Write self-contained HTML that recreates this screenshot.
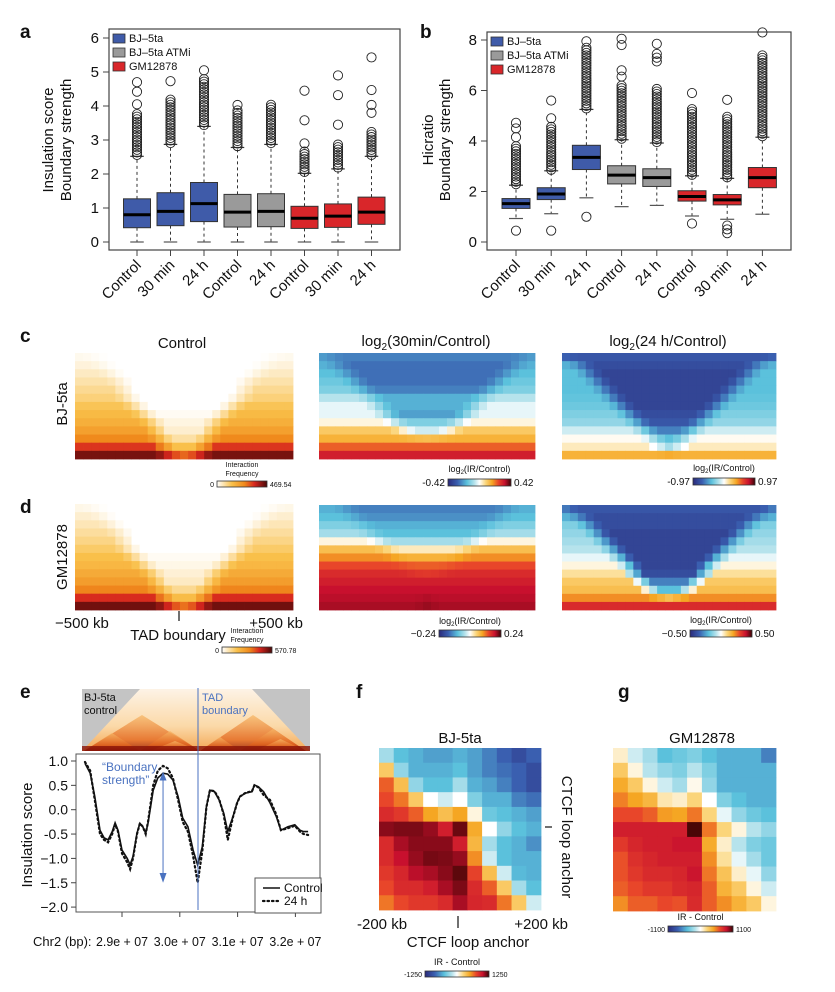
<!DOCTYPE html>
<html><head><meta charset="utf-8"><style>
html,body{margin:0;padding:0;background:#fff;}
svg{display:block;font-family:"Liberation Sans",Arial,sans-serif;}
</style></head><body>
<svg id="fig" width="835" height="992" viewBox="0 0 835 992" xmlns="http://www.w3.org/2000/svg">
<defs>
<linearGradient id="cbDiv" x1="0" x2="1" y1="0" y2="0">
<stop offset="0" stop-color="#2b2a7a"/><stop offset="0.15" stop-color="#3a5fb0"/><stop offset="0.3" stop-color="#5bc1dc"/><stop offset="0.42" stop-color="#b6e3ec"/><stop offset="0.5" stop-color="#ffffff"/><stop offset="0.6" stop-color="#fbd57a"/><stop offset="0.7" stop-color="#f5a623"/><stop offset="0.8" stop-color="#e8462a"/><stop offset="0.9" stop-color="#c8102e"/><stop offset="1" stop-color="#3a0606"/></linearGradient>
<linearGradient id="cbSeq" x1="0" x2="1" y1="0" y2="0">
<stop offset="0" stop-color="#ffffff"/><stop offset="0.3" stop-color="#f9c04a"/><stop offset="0.55" stop-color="#f08a1c"/><stop offset="0.75" stop-color="#d7261e"/><stop offset="1" stop-color="#4a0808"/></linearGradient>
<linearGradient id="triG" x1="0" x2="0" y1="0" y2="1">
<stop offset="0" stop-color="#fdf3e6"/><stop offset="0.6" stop-color="#fbd9a8"/><stop offset="1" stop-color="#f3a653"/></linearGradient>
<linearGradient id="tadG" x1="0" x2="0" y1="0" y2="1">
<stop offset="0" stop-color="#f7b968"/><stop offset="0.7" stop-color="#e2621c"/><stop offset="1" stop-color="#8a1308"/></linearGradient>
</defs>
<g id="layer"></g>
</svg>
<script>
// ---------- data: panel a ----------
const catLabels = ["Control","30 min","24 h","Control","24 h","Control","30 min","24 h"];
const groupColors = ["#3f5ba9","#3f5ba9","#3f5ba9","#9a9a9a","#9a9a9a","#d9262a","#d9262a","#d9262a"];
const legendLabels = ["BJ\u20135ta","BJ\u20135ta ATMi","GM12878"];
const legendColors = ["#3f5ba9","#9a9a9a","#d9262a"];
const aQ1 = [0.42,0.48,0.60,0.44,0.45,0.40,0.43,0.52];
const aMed = [0.80,0.90,1.13,0.88,0.90,0.70,0.76,0.88];
const aQ3 = [1.27,1.45,1.75,1.40,1.42,1.05,1.12,1.32];
const aLo = [0,0,0,0,0,0,0,0];
const aHi = [2.52,2.87,3.40,2.78,2.87,2.02,2.15,2.52];
const aDenseTop = [3.8,4.2,4.8,3.9,4.07,2.7,2.9,3.25];
const aSparse = [[4.05,4.42,4.7],[4.73],[5.05],[4.03],[],[2.9,3.58,4.45],[3.45,4.32,4.9],[3.8,4.03,4.47,5.43]];
const aLowOut = [[],[],[],[],[],[],[],[]];
const aTicks = [0,1,2,3,4,5,6];
// ---------- data: panel b ----------
const bQ1 = [1.33,1.68,2.87,2.30,2.20,1.62,1.47,2.15];
const bMed = [1.52,1.90,3.35,2.65,2.55,1.80,1.67,2.55];
const bQ3 = [1.72,2.15,3.83,3.02,2.90,2.03,1.88,2.95];
const bLo = [0.93,1.12,1.75,1.40,1.45,1.03,0.90,1.10];
const bHi = [2.25,2.82,5.25,4.05,3.92,2.62,2.52,4.15];
const bDenseTop = [3.85,4.6,7.7,6.2,6.1,5.3,5.05,7.4];
const bSparse = [[4.15,4.5,4.72],[4.9,5.6],[7.95],[6.55,6.8,7.8,8.05],[7.15,7.3,7.45,7.85],[5.9],[5.63],[8.3]];
const bLowOut = [[0.45],[0.45],[1.0],[],[],[0.73],[0.35,0.5,0.65],[]];
const bTicks = [0,2,4,6,8];
// ---------- data: heatmaps c/d (per-row profiles, top row first) ----------
const cCtrlEdge = [0.03,0.06,0.1,0.14,0.18,0.22,0.28,0.33,0.38,0.45,0.55,0.72,0.92];
const cCtrlCenter = [0,0,0,0,0,0,0,0.02,0.05,0.08,0.15,0.3,0.62];
const cCtrlHW = [11,10,9,8,7.5,7,6,5,4,3.5,3,2.5,2];
const dCtrlEdge = [0.04,0.08,0.12,0.16,0.2,0.25,0.3,0.34,0.4,0.46,0.56,0.74,0.93];
const dCtrlCenter = [0,0,0,0,0,0,0.02,0.04,0.07,0.1,0.18,0.32,0.6];
const dCtrlHW = [11,10,9,8,7.5,7,6,5,4,3.5,3,2.5,2];
const c30Edge = [-0.5,-0.45,-0.4,-0.35,-0.3,-0.15,-0.05,-0.05,0.05,0.25,0.35,0.55,0.75];
const c30Center = [-0.6,-0.65,-0.65,-0.65,-0.6,-0.45,-0.45,-0.5,-0.3,-0.1,0.3,0.55,0.75];
const c30HW = [12,11,10,9,8,7,6,5,4,3,2,1,0];
const c24Edge = [-0.65,-0.45,-0.4,-0.4,-0.4,-0.38,-0.35,-0.3,-0.25,-0.1,0.02,0.1,0.35];
const c24Center = [-0.75,-0.8,-0.85,-0.85,-0.85,-0.85,-0.85,-0.8,-0.75,-0.6,-0.4,-0.2,0.4];
const c24HW = [13,11,10,9,8,7,6,5,4,3,2,1.5,0];
const d30Edge = [-0.45,-0.4,-0.3,-0.2,0.05,0.3,0.45,0.6,0.7,0.75,0.8,0.82,0.85];
const d30Center = [-0.6,-0.55,-0.45,-0.4,-0.2,0.1,0.35,0.55,0.65,0.75,0.8,0.85,0.9];
const d30HW = [10,9,8,7,6,5,4,3,2,1,0,0,0];
const d24Edge = [-0.5,-0.45,-0.3,-0.25,-0.2,-0.15,-0.05,0.05,0.15,0.25,0.3,0.45,0.7];
const d24Center = [-0.75,-0.8,-0.8,-0.85,-0.85,-0.85,-0.85,-0.85,-0.8,-0.6,-0.4,0.3,0.7];
const d24HW = [13,11,10,9,8,7,6,5,4.5,3.5,2.5,1.5,0];
// ---------- data: panel e ----------
const eMb = [28.36,28.45,28.53,28.62,28.69,28.76,28.83,28.88,28.93,29.0,29.09,29.14,29.19,29.26,29.31,29.36,29.41,29.45,29.54,29.62,29.71,29.79,29.88,29.97,30.05,30.14,30.23,30.31,30.39,30.46,30.52,30.6,30.68,30.76,30.83,30.92,30.99,31.04,31.14,31.25,31.29,31.36,31.45,31.56,31.67,31.75,31.87,31.99,32.08,32.14,32.22];
const eControl = [0.95,0.75,0.27,-0.42,-0.58,-0.62,-0.45,-0.27,-0.42,-0.83,-1.0,-1.13,-0.96,-0.48,-0.28,-0.35,-0.48,-0.28,0.40,0.65,0.75,0.73,0.61,0.27,-0.17,-0.35,-0.83,-1.14,-0.76,0.06,0.40,0.37,0.2,-0.07,-0.45,-0.14,0.14,0.27,0.34,0.37,0.51,0.47,0.37,0.14,-0.14,-0.42,-0.35,-0.31,-0.42,-0.45,-0.45];
const e24h = [0.98,0.8,0.2,-0.5,-0.62,-0.67,-0.5,-0.3,-0.45,-0.9,-1.08,-1.22,-1.0,-0.5,-0.28,-0.35,-0.5,-0.25,0.5,0.8,0.9,0.85,0.65,0.2,-0.25,-0.45,-0.95,-1.5,-0.85,0.05,0.4,0.38,0.22,-0.1,-0.62,-0.15,0.13,0.27,0.35,0.38,0.5,0.46,0.3,0.2,-0.1,-0.42,-0.38,-0.33,-0.45,-0.5,-0.52];
const eTicksY = [1.0,0.5,0.0,-0.5,-1.0,-1.5,-2.0];
const eTickLabelsY = ["1.0","0.5","0.0","-0.5","\u22121.0","\u22121.5","\u22122.0"];
const eTicksX = [29,30,31,32];
const eTickLabelsX = ["2.9e + 07","3.0e + 07","3.1e + 07","3.2e + 07"];
// ---------- data: panels f/g (11x11, top row first) ----------
const fCells = [
[-0.2,-0.4,-0.45,-0.5,-0.5,-0.45,-0.5,-0.6,-0.7,-0.8,-0.7],
[0.25,-0.25,-0.45,-0.45,-0.45,-0.4,-0.5,-0.6,-0.65,-0.7,-0.8],
[0.55,0.3,-0.25,-0.4,-0.4,-0.2,-0.45,-0.5,-0.6,-0.7,-0.8],
[0.6,0.5,0.25,0.0,-0.1,0.0,-0.3,-0.45,-0.45,-0.6,-0.65],
[0.7,0.65,0.55,0.4,0.3,0.4,0.05,-0.35,-0.4,-0.45,-0.5],
[0.9,0.92,0.92,0.88,0.75,0.95,0.38,0.0,-0.25,-0.4,-0.45],
[0.7,0.85,0.9,0.9,0.9,0.75,0.33,-0.2,-0.4,-0.45,-0.55],
[0.7,0.8,0.88,0.93,0.92,0.88,0.45,-0.1,-0.4,-0.45,-0.45],
[0.65,0.72,0.82,0.85,0.9,0.97,0.62,0.3,-0.1,-0.42,-0.45],
[0.6,0.7,0.7,0.75,0.85,0.92,0.7,0.55,0.25,-0.2,-0.4],
[0.5,0.6,0.65,0.65,0.7,0.85,0.72,0.7,0.5,0.25,-0.1]];
const gCells = [
[0.08,-0.1,-0.2,-0.4,-0.35,-0.3,-0.4,-0.45,-0.45,-0.45,-0.6],
[0.25,0.05,-0.15,-0.25,-0.3,-0.15,-0.3,-0.45,-0.45,-0.45,-0.45],
[0.38,0.25,0.05,-0.1,-0.2,0.03,-0.25,-0.45,-0.45,-0.45,-0.45],
[0.48,0.4,0.33,0.12,0.08,0.2,0.0,-0.3,-0.4,-0.45,-0.45],
[0.6,0.6,0.55,0.42,0.4,0.5,0.2,-0.05,-0.25,-0.35,-0.4],
[0.75,0.75,0.75,0.75,0.75,1.0,0.5,0.2,0.05,-0.15,-0.25],
[0.65,0.72,0.75,0.75,0.78,0.78,0.38,0.08,-0.15,-0.3,-0.35],
[0.58,0.68,0.72,0.75,0.75,0.75,0.45,0.15,-0.05,-0.2,-0.35],
[0.58,0.65,0.7,0.7,0.72,0.78,0.5,0.28,0.08,-0.05,-0.25],
[0.55,0.6,0.65,0.65,0.7,0.72,0.55,0.35,0.25,0.05,-0.1],
[0.45,0.55,0.55,0.6,0.58,0.7,0.55,0.45,0.35,0.25,0.05]];

// ---------- helpers ----------
const NS = "http://www.w3.org/2000/svg";
const root = document.getElementById("layer");
function mk(tag, attrs, parent){
  const e = document.createElementNS(NS, tag);
  for (const k in attrs) e.setAttribute(k, attrs[k]);
  (parent||root).appendChild(e);
  return e;
}
function txt(s, x, y, size, opts, parent){
  const e = mk("text", Object.assign({x:x, y:y, "font-size":size, fill:"#111"}, opts||{}), parent);
  e.textContent = s;
  return e;
}
function hex(c){return [parseInt(c.slice(1,3),16),parseInt(c.slice(3,5),16),parseInt(c.slice(5,7),16)];}
function interp(stops, v){
  if (v<=stops[0][0]) return stops[0][1];
  for (let i=1;i<stops.length;i++){
    if (v<=stops[i][0]){
      const t=(v-stops[i-1][0])/(stops[i][0]-stops[i-1][0]);
      const a=hex(stops[i-1][1]), b=hex(stops[i][1]);
      return "rgb("+a.map((x,j)=>Math.round(x+(b[j]-x)*t)).join(",")+")";
    }
  }
  return stops[stops.length-1][1];
}
const divStops = [[-1,"#2b2a7a"],[-0.7,"#3a5fb0"],[-0.4,"#5bc1dc"],[-0.15,"#b6e3ec"],[0,"#ffffff"],[0.2,"#fbd57a"],[0.4,"#f5a623"],[0.6,"#e8462a"],[0.8,"#c8102e"],[1,"#4a0606"]];
const seqStops = [[0,"#ffffff"],[0.3,"#f9c04a"],[0.55,"#f08a1c"],[0.75,"#d7261e"],[1,"#4a0808"]];
const divColor = v=>interp(divStops,v);
const seqColor = v=>interp(seqStops,v);

// ---------- panel letters ----------
[["a",20,38],["b",420,38],["c",20,342],["d",20,513],["e",20,698],["f",356,698],["g",618,698]].forEach(p=>{
  const t = txt(p[0],p[1],p[2],19,{"font-weight":"bold"});
  
  
});

// ---------- boxplot ----------
function boxplot(cfg){
  const g = mk("g",{});
  
  
  const y = v => cfg.y0 - (v - cfg.vmin)*cfg.ppu;
  const x = i => cfg.x0 + i*cfg.step;
  const frame = mk("rect",{x:cfg.left,y:cfg.top,width:cfg.right-cfg.left,height:cfg.bottom-cfg.top,fill:"none",stroke:"#444","stroke-width":1.2},g);
  
  
  cfg.ticks.forEach(t=>{
    mk("line",{x1:cfg.left-6,x2:cfg.left,y1:y(t),y2:y(t),stroke:"#444","stroke-width":1},g);
    const tl = txt(String(t),cfg.left-10,y(t)+5,15,{"text-anchor":"end"},g);
    
    
  });
  const yt = txt(cfg.title1,0,0,15,{"text-anchor":"middle",transform:"translate("+cfg.tx1+","+cfg.ty+") rotate(-90)"},g);
  
  
  const yt2 = txt(cfg.title2,0,0,15,{"text-anchor":"middle",transform:"translate("+cfg.tx2+","+cfg.ty+") rotate(-90)"},g);
  
  
  const hw = cfg.boxW/2;
  for (let i=0;i<catLabels.length;i++){
    const cx = x(i);
    const bg = mk("g",{},g);
    
    
    mk("line",{x1:cx,x2:cx,y1:y(cfg.q3[i]),y2:y(cfg.hi[i]),stroke:"#333","stroke-dasharray":"3,3","stroke-width":1},bg);
    mk("line",{x1:cx,x2:cx,y1:y(cfg.q1[i]),y2:y(cfg.lo[i]),stroke:"#333","stroke-dasharray":"3,3","stroke-width":1},bg);
    mk("line",{x1:cx-hw/2,x2:cx+hw/2,y1:y(cfg.hi[i]),y2:y(cfg.hi[i]),stroke:"#333","stroke-width":1.2},bg);
    mk("line",{x1:cx-hw/2,x2:cx+hw/2,y1:y(cfg.lo[i]),y2:y(cfg.lo[i]),stroke:"#555","stroke-width":1.2},bg);
    mk("rect",{x:cx-hw,y:y(cfg.q3[i]),width:cfg.boxW,height:y(cfg.q1[i])-y(cfg.q3[i]),fill:groupColors[i],stroke:"#333","stroke-width":1},bg);
    mk("line",{x1:cx-hw,x2:cx+hw,y1:y(cfg.med[i]),y2:y(cfg.med[i]),stroke:"#000","stroke-width":3},bg);
    const outs = [];
    for (let v=cfg.hi[i]+0.04; v<=cfg.dense[i]; v+=cfg.denseStep) outs.push(v);
    cfg.sparse[i].forEach(v=>outs.push(v));
    cfg.lowOut[i].forEach(v=>outs.push(v));
    outs.forEach(v=>{
      const c = mk("circle",{cx:cx,cy:y(v),r:4.6,fill:"none",stroke:"#222","stroke-width":0.9},bg);
      
      
    });
    mk("line",{x1:cx,x2:cx,y1:cfg.bottom,y2:cfg.bottom+6,stroke:"#444","stroke-width":1},g);
    const cl = txt(catLabels[i],0,0,15,{"text-anchor":"end",transform:"translate("+(cx+5)+","+(cfg.bottom+16)+") rotate(-45)"},g);
    
    
  }
  legendLabels.forEach((l,j)=>{
    const lg = mk("g",{},g);
    
    
    mk("rect",{x:cfg.left+4,y:cfg.top+5+j*14,width:12,height:9,fill:legendColors[j],stroke:"#333","stroke-width":0.8},lg);
    txt(l,cfg.left+20,cfg.top+13+j*14,11,{},lg);
  });
}
boxplot({name:"panel-a-boxplot",left:109,right:400,top:29,bottom:250,y0:242,vmin:0,ppu:34,x0:137,step:33.5,boxW:27,
  ticks:aTicks,q1:aQ1,med:aMed,q3:aQ3,lo:aLo,hi:aHi,dense:aDenseTop,sparse:aSparse,lowOut:aLowOut,denseStep:0.075,
  title1:"Insulation score",title2:"Boundary strength",tx1:53,tx2:71,ty:140});
boxplot({name:"panel-b-boxplot",left:487,right:791,top:32,bottom:250,y0:242,vmin:0,ppu:25.25,x0:516,step:35.2,boxW:28,
  ticks:bTicks,q1:bQ1,med:bMed,q3:bQ3,lo:bLo,hi:bHi,dense:bDenseTop,sparse:bSparse,lowOut:bLowOut,denseStep:0.1,
  title1:"Hicratio",title2:"Boundary strength",tx1:433,tx2:450,ty:140});

// ---------- heatmaps c/d ----------
function tadMap(name, x0, y0, w, h, edge, center, hwArr, colorFn){
  const g = mk("g",{});
  
  
  const rows = edge.length, cols = 27, cw = w/cols, rh = h/rows;
  for (let r=0;r<rows;r++) for (let c=0;c<cols;c++){
    const d = Math.abs(c-13);
    const t = Math.max(0,Math.min(1,(d-hwArr[r]+1.5)/3));
    const v = center[r] + (edge[r]-center[r])*t;
    const cell = mk("rect",{x:(x0+c*cw).toFixed(2),y:(y0+r*rh).toFixed(2),width:(cw+0.4).toFixed(2),height:(rh+0.4).toFixed(2),fill:colorFn(v)},g);
    
    
  }
}
tadMap("heatmap-c-control",75,353,218,106,cCtrlEdge,cCtrlCenter,cCtrlHW,seqColor);
tadMap("heatmap-d-control",75,504,218,106,dCtrlEdge,dCtrlCenter,dCtrlHW,seqColor);
tadMap("heatmap-c-30min",319,353,216,106,c30Edge,c30Center,c30HW,divColor);
tadMap("heatmap-c-24h",562,353,214,106,c24Edge,c24Center,c24HW,divColor);
tadMap("heatmap-d-30min",319,505,216,105,d30Edge,d30Center,d30HW,divColor);
tadMap("heatmap-d-24h",562,505,214,105,d24Edge,d24Center,d24HW,divColor);

function colorbar(name, x, y, w, h, grad, lo, hi, label, lblY, sub){
  const g = mk("g",{});
  
  
  mk("rect",{x:x,y:y,width:w,height:h,fill:"url(#"+grad+")",stroke:"#333","stroke-width":0.8},g);
  txt(lo,x-3,y+h,sub?7:10,{"text-anchor":"end"},g);
  txt(hi,x+w+3,y+h,sub?7:10,{},g);
  if (label==="log2"){
    const t = mk("text",{x:x+w/2,y:lblY,"font-size":9,"text-anchor":"middle",fill:"#111"},g);
    t.innerHTML = 'log<tspan font-size="6" dy="2">2</tspan><tspan dy="-2">(IR/Control)</tspan>';
  } else if (label==="IF"){
    txt("Interaction",x+w/2,lblY-9,7,{"text-anchor":"middle"},g);
    txt("Frequency",x+w/2,lblY,7,{"text-anchor":"middle"},g);
  } else {
    txt(label,x+w/2,lblY,9,{"text-anchor":"middle"},g);
  }
}
colorbar("colorbar-c-control",217,481,50,6,"cbSeq","0","469.54","IF",476,true);
colorbar("colorbar-d-control",222,647,50,6,"cbSeq","0","570.78","IF",642,true);
colorbar("colorbar-c-30min",448,479,63,7,"cbDiv","-0.42","0.42","log2",472);
colorbar("colorbar-c-24h",693,478,62,7,"cbDiv","-0.97","0.97","log2",471);
colorbar("colorbar-d-30min",439,630,62,7,"cbDiv","\u22120.24","0.24","log2",624);
colorbar("colorbar-d-24h",690,630,62,7,"cbDiv","\u22120.50","0.50","log2",623);

(function(){
  const t1 = txt("Control",182,348,15,{"text-anchor":"middle"});
  
  
  const t2 = mk("text",{x:426,y:346,"font-size":15,"text-anchor":"middle",fill:"#111"});
  t2.innerHTML = 'log<tspan font-size="10" dy="4">2</tspan><tspan dy="-4">(30min/Control)</tspan>';
  
  
  const t3 = mk("text",{x:668,y:346,"font-size":15,"text-anchor":"middle",fill:"#111"});
  t3.innerHTML = 'log<tspan font-size="10" dy="4">2</tspan><tspan dy="-4">(24 h/Control)</tspan>';
  
  
  const r1 = txt("BJ-5ta",0,0,15,{"text-anchor":"middle",transform:"translate(67,404) rotate(-90)"});
  
  
  const r2 = txt("GM12878",0,0,15,{"text-anchor":"middle",transform:"translate(67,557) rotate(-90)"});
  
  
  const l1 = txt("\u2212500 kb",55,628,15,{});
  
  
  const l2 = txt("+500 kb",303,628,15,{"text-anchor":"end"});
  
  
  mk("line",{x1:179,x2:179,y1:611,y2:621,stroke:"#222","stroke-width":1.3});
  const l3 = txt("TAD boundary",178,640,15,{"text-anchor":"middle"});
  
  
})();

// ---------- panel e ----------
(function(){
  const g = mk("g",{});
  
  
  mk("rect",{x:82,y:689,width:228,height:62,fill:"#c4c4c4"},g);
  mk("polygon",{points:"82,751 140,689 252,689 310,751",fill:"url(#triG)"},g);
  [[84,200,36],[200,306,36],[84,140,18],[140,200,20],[200,240,14],[240,306,22],[150,200,10],[255,306,12]].forEach(t=>{
    const mid=(t[0]+t[1])/2;
    mk("polygon",{points:t[0]+",751 "+mid+","+(751-t[2])+" "+t[1]+",751",fill:"url(#tadG)",opacity:0.75},g);
  });
  mk("rect",{x:82,y:746,width:228,height:5,fill:"#8a1308",opacity:0.8},g);
  txt("BJ-5ta",84,701,11,{},g);
  txt("control",84,714,11,{},g);
  txt("TAD",202,701,11,{fill:"#4a72c0"},g);
  txt("boundary",202,714,11,{fill:"#4a72c0"},g);
})();
(function(){
  const left=76,right=320,top=754,bottom=912;
  const y = v => 761 + (1-v)*48.7;
  const x = mb => 122 + (mb-29)*57.8;
  const g = mk("g",{});
  
  
  mk("rect",{x:left,y:top,width:right-left,height:bottom-top,fill:"none",stroke:"#555","stroke-width":1},g);
  eTicksY.forEach((t,i)=>{
    mk("line",{x1:left-5,x2:left,y1:y(t),y2:y(t),stroke:"#444"},g);
    const tl = txt(eTickLabelsY[i],left-8,y(t)+5,14,{"text-anchor":"end"},g);
    
    
  });
  eTicksX.forEach((t,i)=>{
    mk("line",{x1:x(t),x2:x(t),y1:bottom,y2:bottom+5,stroke:"#444"},g);
    const tl = txt(eTickLabelsX[i],x(t),946,13,{"text-anchor":"middle",textLength:52,lengthAdjust:"spacingAndGlyphs"},g);
    
    
  });
  const xt = txt("Chr2 (bp):",33,946,13,{},g);
  
  
  const yt = txt("Insulation score",0,0,15,{"text-anchor":"middle",transform:"translate(32,835) rotate(-90)"},g);
  
  
  const ptsC = eMb.map((m,i)=>x(m).toFixed(1)+","+y(eControl[i]).toFixed(1)).join(" ");
  const lc = mk("polyline",{points:ptsC,fill:"none",stroke:"#111","stroke-width":1.6},g);
  
  
  const pts24 = eMb.map((m,i)=>x(m).toFixed(1)+","+y(e24h[i]).toFixed(1)).join(" ");
  const l24 = mk("polyline",{points:pts24,fill:"none",stroke:"#111","stroke-width":2.2,"stroke-dasharray":"1.5,3","stroke-linecap":"round"},g);
  
  
  mk("line",{x1:198,x2:198,y1:688,y2:910,stroke:"#4a72c0","stroke-width":1},g);
  const ax = x(eMb[20]);
  mk("line",{x1:ax,x2:ax,y1:y(0.72),y2:y(-1.4),stroke:"#4a72c0","stroke-width":1},g);
  mk("polygon",{points:(ax-3.5)+","+(y(0.6))+" "+(ax+3.5)+","+(y(0.6))+" "+ax+","+(y(0.78)),fill:"#4a72c0"},g);
  mk("polygon",{points:(ax-3.5)+","+(y(-1.3))+" "+(ax+3.5)+","+(y(-1.3))+" "+ax+","+(y(-1.5)),fill:"#4a72c0"},g);
  txt("\u201CBoundary",102,771,12,{fill:"#4a72c0"},g);
  txt("strength\u201D",102,784,12,{fill:"#4a72c0"},g);
  const lg = mk("g",{},g);
  
  
  mk("rect",{x:255,y:878,width:66,height:35,fill:"#fff",stroke:"#555"},lg);
  mk("line",{x1:263,x2:280,y1:888,y2:888,stroke:"#111","stroke-width":1.5},lg);
  txt("Control",284,892,12,{},lg);
  mk("line",{x1:263,x2:280,y1:901,y2:901,stroke:"#111","stroke-width":2.2,"stroke-dasharray":"1.5,3","stroke-linecap":"round"},lg);
  txt("24 h",284,905,12,{},lg);
})();

// ---------- panels f/g ----------
function loopMap(name, cells, x0, y0, size){
  const g = mk("g",{});
  
  
  const n = cells.length, cs = size/n;
  cells.forEach((row,r)=>row.forEach((v,c)=>{
    const cell = mk("rect",{x:(x0+c*cs).toFixed(2),y:(y0+r*cs).toFixed(2),width:(cs+0.4).toFixed(2),height:(cs+0.4).toFixed(2),fill:divColor(v)},g);
    
    
  }));
}
loopMap("heatmap-f-bj5ta",fCells,379,748,162);
loopMap("heatmap-g-gm12878",gCells,613,748,163);
(function(){
  const t1 = txt("BJ-5ta",460,743,15,{"text-anchor":"middle"});
  
  
  const t2 = txt("GM12878",702,743,15,{"text-anchor":"middle"});
  
  
  txt("-200 kb",357,929,15,{});
  txt("+200 kb",568,929,15,{"text-anchor":"end"});
  mk("line",{x1:458,x2:458,y1:916,y2:928,stroke:"#222","stroke-width":1.3});
  const a1 = txt("CTCF loop anchor",468,947,15,{"text-anchor":"middle"});
  
  
  const a2 = txt("CTCF loop anchor",0,0,15,{"text-anchor":"middle",transform:"translate(562,837) rotate(90)"});
  
  
  mk("line",{x1:545,x2:552,y1:827,y2:827,stroke:"#222","stroke-width":1.3});
})();
colorbar("colorbar-f",425,971,64,6,"cbDiv","-1250","1250","IR - Control",965,true);
colorbar("colorbar-g",668,926,65,6,"cbDiv","-1100","1100","IR - Control",920,true);
</script>
</body></html>
